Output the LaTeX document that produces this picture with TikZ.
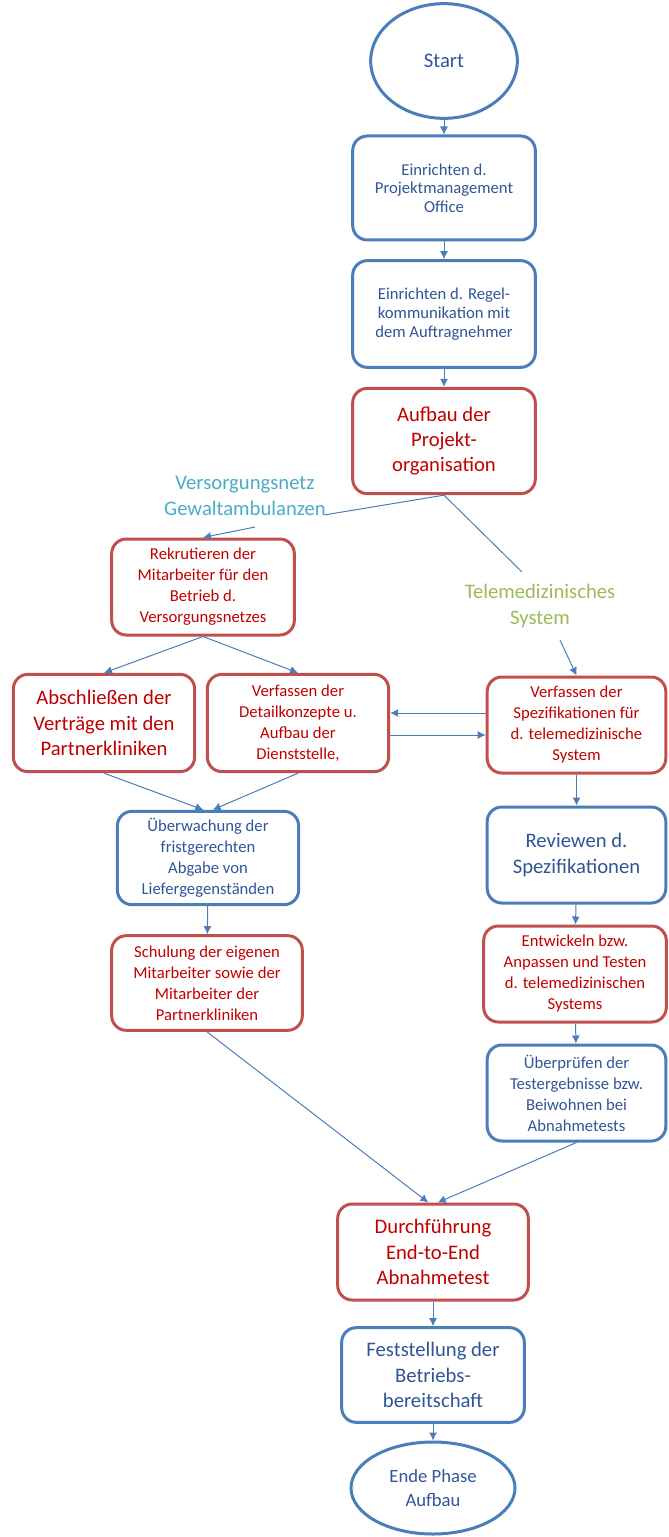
\documentclass[tikz,border=0pt]{standalone}
\usepackage{fontspec}
\setmainfont{Carlito}
\usetikzlibrary{arrows.meta,shapes.geometric}

\definecolor{boxblue}{RGB}{74,126,187}
\definecolor{txtblue}{RGB}{47,85,151}
\definecolor{boxred}{RGB}{192,80,77}
\definecolor{txtred}{RGB}{192,0,0}
\definecolor{lblteal}{RGB}{75,172,198}
\definecolor{lblgreen}{RGB}{155,187,89}

\tikzset{
  box/.style={draw, rounded corners=11pt, line width=2.25pt, align=center, inner sep=2pt},
  bluebox/.style={box, draw=boxblue, text=txtblue},
  redbox/.style={box, draw=boxred, text=txtred},
  terminal/.style={ellipse, draw=boxblue, line width=2.25pt, text=txtblue, align=center, inner sep=0pt},
  sz/.style 2 args={minimum width=#1, minimum height=#2},
  tighttxt/.style={font=\fontsize{12.5}{14}\selectfont},
  smalltxt/.style={font=\fontsize{12.5}{15.75}\selectfont},
  bigtxt/.style={font=\fontsize{15.5}{19}\selectfont},
  midtxt/.style={font=\fontsize{14}{18}\selectfont},
  flow/.style={draw=boxblue, line width=0.75pt},
}

\begin{document}
\begin{tikzpicture}[x=0.75pt, y=-0.75pt, >={Latex[length=6pt,width=6pt]}]
	\useasboundingbox (0,0) rectangle (668,1537);

	% middle column, top
	\node[terminal, bigtxt, sz={110pt}{86pt}] (start) at (444,61) {Start};
	\node[bluebox, tighttxt, sz={137pt}{78pt}] (pmo) at (444,188) {Einrichten d.\\Projektmanagement\\Office};
	\node[bluebox, tighttxt, sz={137pt}{80pt}] (regel) at (444,314) {Einrichten d. Regel-\\kommunikation mit\\dem Auftragnehmer};
	\node[redbox, bigtxt, sz={137pt}{79pt}] (aufbau) at (444,441) {Aufbau der\\Projekt-\\organisation};

	% branch labels
	\node[bigtxt, text=lblteal, align=center] (vnetz) at (245,496) {Versorgungsnetz\\Gewaltambulanzen};
	\node[bigtxt, text=lblgreen, align=center] (tmsys) at (540,606) {Telemedizinisches\\System};
	\coordinate (vin) at (324,515);
	\coordinate (vout) at (255,527);
	\coordinate (tin) at (522,572);
	\coordinate (tout) at (560,640);

	% left branch
	\node[redbox, smalltxt, sz={137pt}{72pt}] (rekrut) at (203,587) {Rekrutieren der\\Mitarbeiter für den\\Betrieb d.\\Versorgungsnetzes};
	\node[redbox, bigtxt, sz={136pt}{73pt}] (abschl) at (104,723) {Abschließen der\\Verträge mit den\\Partnerkliniken};
	\node[redbox, smalltxt, sz={136pt}{73pt}] (detail) at (298,723) {Verfassen der\\Detailkonzepte u.\\Aufbau der\\Dienststelle,};
	\node[bluebox, smalltxt, sz={136pt}{70pt}] (ueberw) at (208,858) {Überwachung der\\fristgerechten\\Abgabe von\\Liefergegenständen};
	\node[redbox, smalltxt, sz={143pt}{71pt}] (schul) at (207,983) {Schulung der eigenen\\Mitarbeiter sowie der\\Mitarbeiter der\\Partnerkliniken};

	% right branch
	\node[redbox, smalltxt, sz={134pt}{72pt}] (spez) at (576.5,725) {Verfassen der\\Spezifikationen für\\d. telemedizinische\\System};
	\node[bluebox, bigtxt, sz={134pt}{72pt}] (review) at (576.5,855) {Reviewen d.\\Spezifikationen};
	\node[redbox, smalltxt, sz={137pt}{72pt}] (entw) at (575,974) {Entwickeln bzw.\\Anpassen und Testen\\d. telemedizinischen\\Systems};
	\node[bluebox, smalltxt, sz={134pt}{72pt}] (pruef) at (576.5,1093) {Überprüfen der\\Testergebnisse bzw.\\Beiwohnen bei\\Abnahmetests};

	% middle column, bottom
	\node[redbox, bigtxt, sz={143pt}{72pt}] (durch) at (433,1252) {Durchführung\\End-to-End\\Abnahmetest};
	\node[bluebox, bigtxt, sz={137pt}{71pt}] (fest) at (433,1375) {Feststellung der\\Betriebs-\\bereitschaft};
	\node[terminal, midtxt, sz={123pt}{69pt}] (ende) at (433,1488) {Ende Phase\\Aufbau};

	\draw [flow, ->] (start) to (pmo);
	\draw [flow, ->] (pmo) to (regel);
	\draw [flow, ->] (regel) to (aufbau);

	\draw [flow] (aufbau.south) to (vin);
	\draw [flow, ->] (vout) to (rekrut.north);
	\draw [flow] (aufbau.south) to (tin);
	\draw [flow, ->] (tout) to (spez.north);

	\draw [flow, ->] (rekrut.south) to (abschl.north);
	\draw [flow, ->] (rekrut.south) to (detail.north);
	\draw [flow, ->] ([yshift=9pt]spez.west) to ([yshift=9pt]spez.west -| detail.east);
	\draw [flow, ->] ([yshift=-9pt]detail.east) to ([yshift=-9pt]detail.east -| spez.west);
	\draw [flow, ->] (abschl.south) to ([xshift=-3.5pt]ueberw.north);
	\draw [flow, ->] (detail.south) to ([xshift=3.5pt]ueberw.north);
	\draw [flow, ->] (ueberw) to (schul);

	\draw [flow, ->] (spez) to (review);
	\draw [flow, ->] (review) to (entw);
	\draw [flow, ->] (entw) to (pruef);

	\draw [flow, ->] (schul.south) to ([xshift=-3.5pt]durch.north);
	\draw [flow, ->] (pruef.south) to ([xshift=3.5pt]durch.north);
	\draw [flow, ->] (durch) to (fest);
	\draw [flow, ->] (fest) to (ende);
\end{tikzpicture}
\end{document}
